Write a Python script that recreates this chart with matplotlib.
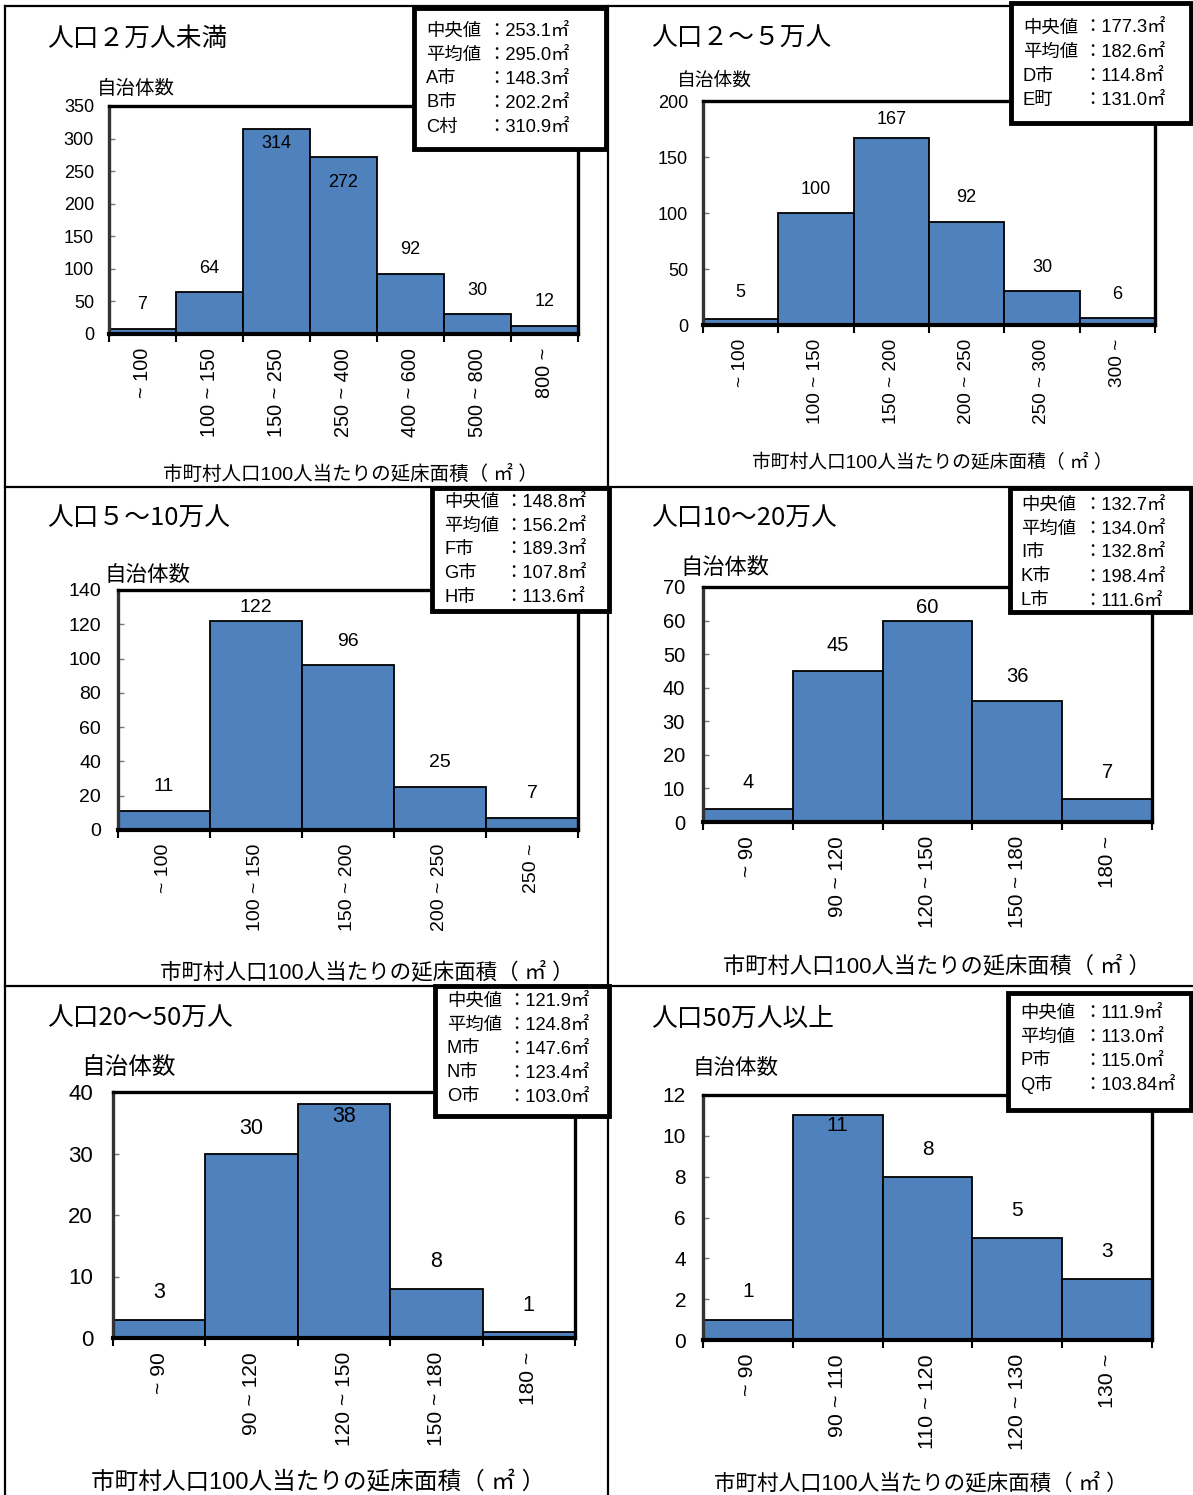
import numpy as np
import matplotlib
matplotlib.use("Agg")
import matplotlib.pyplot as plt
from matplotlib import font_manager
from matplotlib.patches import Rectangle
from matplotlib.lines import Line2D

# ---------------------------------------------------------------- data
cats_1 = ["~ 100", "100 ~ 150", "150 ~ 250", "250 ~ 400", "400 ~ 600", "500 ~ 800", "800 ~"]
vals_1 = [7, 64, 314, 272, 92, 30, 12]
stats_names_1 = ["中央値", "平均値", "A市", "B市", "C村"]
stats_vals_1 = ["253.1", "295.0", "148.3", "202.2", "310.9"]

cats_2 = ["~ 100", "100 ~ 150", "150 ~ 200", "200 ~ 250", "250 ~ 300", "300 ~"]
vals_2 = [5, 100, 167, 92, 30, 6]
stats_names_2 = ["中央値", "平均値", "D市", "E町"]
stats_vals_2 = ["177.3", "182.6", "114.8", "131.0"]

cats_3 = ["~ 100", "100 ~ 150", "150 ~ 200", "200 ~ 250", "250 ~"]
vals_3 = [11, 122, 96, 25, 7]
stats_names_3 = ["中央値", "平均値", "F市", "G市", "H市"]
stats_vals_3 = ["148.8", "156.2", "189.3", "107.8", "113.6"]

cats_4 = ["~ 90", "90 ~ 120", "120 ~ 150", "150 ~ 180", "180 ~"]
vals_4 = [4, 45, 60, 36, 7]
stats_names_4 = ["中央値", "平均値", "I市", "K市", "L市"]
stats_vals_4 = ["132.7", "134.0", "132.8", "198.4", "111.6"]

cats_5 = ["~ 90", "90 ~ 120", "120 ~ 150", "150 ~ 180", "180 ~"]
vals_5 = [3, 30, 38, 8, 1]
stats_names_5 = ["中央値", "平均値", "M市", "N市", "O市"]
stats_vals_5 = ["121.9", "124.8", "147.6", "123.4", "103.0"]

cats_6 = ["~ 90", "90 ~ 110", "110 ~ 120", "120 ~ 130", "130 ~"]
vals_6 = [1, 11, 8, 5, 3]
stats_names_6 = ["中央値", "平均値", "P市", "Q市"]
stats_vals_6 = ["111.9", "113.0", "115.0", "103.84"]

titles = ["人口２万人未満", "人口２～５万人", "人口５～10万人",
          "人口10～20万人", "人口20～50万人", "人口50万人以上"]
y_limits = [(350, 50), (200, 50), (140, 20), (70, 10), (40, 10), (12, 2)]
y_label = "自治体数"
x_label = "市町村人口100人当たりの延床面積（ ㎡ ）"

# ---------------------------------------------------------------- fonts
installed = {f.name for f in font_manager.fontManager.ttflist}
narrow = "Liberation Sans Narrow" if "Liberation Sans Narrow" in installed else "Liberation Sans"
NUM = [narrow, "Noto Sans CJK JP", "DejaVu Sans"]
REG = ["Liberation Sans", "Noto Sans CJK JP", "DejaVu Sans"]
CJK = ["Noto Sans CJK JP", "DejaVu Sans"]
plt.rcParams["font.family"] = REG

W, H, DPI = 1193, 1495, 100
BLUE = "#4F81BD"
PT = 72.0 / DPI  # points per pixel


def fx(x):
    return x / W


def fy(y):
    return 1 - y / H


# ---------------------------------------------------------------- layout (pixels)
layout = [
    dict(ax=(109, 106, 578, 334), title=(47, 39), ylab=(97, 88, 14), xlab=(350, 474, 14),
         box=(414, 8, 606, 149), lines=(31, 24), cols=(426, 487),
         tick=13, val=13, xt=14.3, ypad=15, lab_off=[25, 24, -14, -26, 25, 24, 25]),
    dict(ax=(703, 101, 1155, 325), title=(651, 39), ylab=(677, 80, 13.5), xlab=(932, 463, 13.5),
         box=(1011, 3, 1191, 123), lines=(28, 24.3), cols=(1023, 1083),
         tick=13, val=13, xt=13.7, ypad=15, lab_off=[27, 24, 18, 24, 24, 24]),
    dict(ax=(118, 590, 578, 830), title=(47, 519), ylab=(105, 575, 15.5), xlab=(367, 972, 15.5),
         box=(432, 488, 609, 611), lines=(502.5, 23.7), cols=(444, 504),
         tick=14, val=14, xt=14, ypad=17, lab_off=[25, 13, 24, 25, 25]),
    dict(ax=(703, 587, 1152, 822), title=(651, 519), ylab=(680, 567, 16), xlab=(937, 966, 16),
         box=(1010, 488, 1191, 612), lines=(505, 24), cols=(1021, 1083),
         tick=14.5, val=14.5, xt=14.9, ypad=18, lab_off=[26, 25, 13, 25, 26]),
    dict(ax=(113, 1092, 575, 1338), title=(47, 1019), ylab=(81, 1068, 17), xlab=(318, 1483, 17),
         box=(435, 986, 609, 1116), lines=(1001, 24), cols=(447, 507),
         tick=16, val=15.5, xt=15.1, ypad=20, lab_off=[27, 25, -12, 27, 26]),
    dict(ax=(703, 1095, 1152, 1340), title=(651, 1019), ylab=(692, 1068, 15.5), xlab=(921, 1483, 15.5),
         box=(1008, 993, 1191, 1110), lines=(1013, 24), cols=(1020, 1083),
         tick=15, val=15, xt=15.4, ypad=17, lab_off=[28, -10, 27, 27, 27]),
]

panels = [
    (cats_1, vals_1, stats_names_1, stats_vals_1),
    (cats_2, vals_2, stats_names_2, stats_vals_2),
    (cats_3, vals_3, stats_names_3, stats_vals_3),
    (cats_4, vals_4, stats_names_4, stats_vals_4),
    (cats_5, vals_5, stats_names_5, stats_vals_5),
    (cats_6, vals_6, stats_names_6, stats_vals_6),
]

fig = plt.figure(figsize=(W / DPI, H / DPI), dpi=DPI)
fig.patch.set_facecolor("white")

for (cats, vals, s_names, s_vals), title, (ymax, ystep), L in zip(panels, titles, y_limits, layout):
    l, t, r, b = L["ax"]
    ax = fig.add_axes([fx(l), fy(b), (r - l) / W, (b - t) / H])
    n = len(vals)
    ax.bar(np.arange(n), vals, width=1.0, align="edge", color=BLUE,
           edgecolor="black", linewidth=1.3, zorder=2)
    ax.set_xlim(0, n)
    ax.set_ylim(0, ymax)
    ax.set_yticks(np.arange(0, ymax + ystep, ystep))
    ax.set_yticklabels([str(v) for v in np.arange(0, ymax + ystep, ystep)],
                       fontsize=L["tick"], family=NUM)

    # category boundaries as ticks, category names centred under each bar
    ax.set_xticks(np.arange(n + 1))
    ax.set_xticklabels([])
    ax.set_xticks(np.arange(n) + 0.5, minor=True)
    ax.set_xticklabels(cats, minor=True, rotation=90, fontsize=L["xt"], family=REG)
    ax.tick_params(axis="x", which="major", direction="out", length=8 * PT, width=1.5, color="black")
    ax.tick_params(axis="x", which="minor", length=0, pad=14 * PT)
    ax.tick_params(axis="y", direction="in", length=4, width=1, color="#777777", pad=L["ypad"] * PT)

    for side in ["top", "right", "left"]:
        ax.spines[side].set_linewidth(2.4)
        ax.spines[side].set_color("black")
    ax.spines["left"].set_color("#333333")
    ax.spines["bottom"].set_linewidth(3)

    for i, (v, off) in enumerate(zip(vals, L["lab_off"])):
        ax.annotate(str(v), xy=(i + 0.5, v), xytext=(0, off * PT), textcoords="offset points",
                    ha="center", va="center", fontsize=L["val"], family=NUM, zorder=4)

    # panel title and axis captions
    tx, ty = L["title"]
    fig.text(fx(tx), fy(ty), title, fontsize=18.5, family=CJK, ha="left", va="center")
    yx, yy, ys = L["ylab"]
    fig.text(fx(yx), fy(yy), y_label, fontsize=ys, family=CJK, ha="left", va="center")
    xx, xy_, xs = L["xlab"]
    fig.text(fx(xx), fy(xy_), x_label, fontsize=xs, family=REG, ha="center", va="center")

    # summary statistics box
    bl, bt, br, bb = L["box"]
    fig.add_artist(Rectangle((fx(bl), fy(bb)), (br - bl) / W, (bb - bt) / H,
                             transform=fig.transFigure, facecolor="white",
                             edgecolor="black", linewidth=3.5, zorder=5))
    y0, dy = L["lines"]
    c1, c2 = L["cols"]
    for k, (nm, sv) in enumerate(zip(s_names, s_vals)):
        yy_k = y0 + k * dy
        fig.text(fx(c1), fy(yy_k), nm, fontsize=13.2, family=REG, ha="left", va="center", zorder=6)
        fig.text(fx(c2), fy(yy_k), "：" + sv + "㎡", fontsize=13.2, family=REG,
                 ha="left", va="center", zorder=6)

# panel frame lines
frame = [
    ([5, 1193], [6, 6]),
    ([5, 5], [6, 1495]),
    ([608, 608], [6, 1495]),
    ([5, 1193], [487, 487]),
    ([5, 1193], [986, 986]),
]
for xs_, ys_ in frame:
    fig.add_artist(Line2D([fx(v) for v in xs_], [fy(v) for v in ys_],
                          transform=fig.transFigure, color="black", linewidth=1.6, zorder=1))

fig.savefig("out.png", dpi=DPI, facecolor="white")
